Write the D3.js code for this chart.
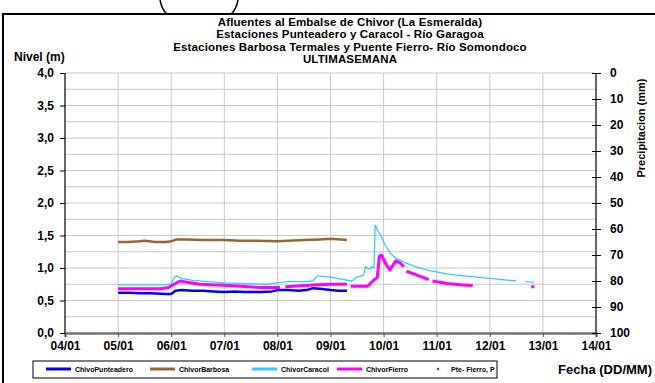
<!DOCTYPE html>
<html><head><meta charset="utf-8">
<script src="https://d3js.org/d3.v7.min.js"></script>
<style>body{margin:0;background:#fff;}svg{display:block;}text{font-family:"Liberation Sans",Arial,sans-serif;font-weight:bold;}</style>
</head><body>
<svg id="c" width="655" height="383"></svg>
<script>
const titleLines = ["Afluentes al Embalse de Chivor (La Esmeralda)","Estaciones Punteadero y Caracol - Río Garagoa","Estaciones Barbosa Termales y Puente Fierro- Río Somondoco","ULTIMASEMANA"];
const dayTicks = [4,5,6,7,8,9,10,11,12,13,14];
const dayLabels = ["04/01","05/01","06/01","07/01","08/01","09/01","10/01","11/01","12/01","13/01","14/01"];
const nivelTicks = [0,0.5,1,1.5,2,2.5,3,3.5,4];
const precTicks = [0,10,20,30,40,50,60,70,80,90,100];

const punteadero = [[5.0,0.62],[5.2,0.62],[5.4,0.61],[5.6,0.61],[5.9,0.60],[6.0,0.60],[6.08,0.65],[6.2,0.66],[6.4,0.65],[6.6,0.65],[6.8,0.64],[7.0,0.63],[7.2,0.64],[7.4,0.63],[7.7,0.63],[7.9,0.64],[8.0,0.66],[8.2,0.66],[8.4,0.65],[8.55,0.66],[8.67,0.69],[8.8,0.68],[9.0,0.66],[9.15,0.65],[9.31,0.65]];
const barbosa = [[5.0,1.40],[5.2,1.40],[5.4,1.41],[5.5,1.42],[5.7,1.40],[5.9,1.40],[6.0,1.41],[6.1,1.44],[6.3,1.44],[6.6,1.43],[7.0,1.43],[7.3,1.42],[7.6,1.42],[8.0,1.41],[8.2,1.42],[8.5,1.43],[8.8,1.44],[9.0,1.45],[9.2,1.44],[9.31,1.43]];
const caracol = [[5.0,0.74],[5.5,0.74],[5.9,0.74],[6.0,0.75],[6.05,0.85],[6.1,0.88],[6.2,0.84],[6.4,0.81],[6.7,0.79],[7.0,0.77],[7.4,0.76],[7.8,0.75],[8.0,0.77],[8.2,0.79],[8.5,0.79],[8.67,0.80],[8.75,0.88],[9.0,0.86],[9.2,0.83],[9.4,0.80],[9.5,0.86],[9.62,0.89],[9.66,1.02],[9.72,0.98],[9.78,1.02],[9.82,1.00],[9.84,1.66],[9.9,1.56],[9.95,1.50],[10.0,1.40],[10.12,1.23],[10.25,1.14],[10.44,1.07],[10.63,1.01],[10.87,0.96],[11.19,0.91],[11.5,0.88],[12.0,0.84],[12.5,0.80],[12.55,null],[12.68,0.79],[12.83,0.78]];
const fierro = [[5.0,0.68],[5.4,0.68],[5.8,0.68],[5.95,0.70],[6.05,0.75],[6.17,0.80],[6.3,0.78],[6.54,0.75],[7.1,0.73],[7.67,0.70],[8.05,0.70],[8.08,null],[8.15,0.71],[8.67,0.74],[9.0,0.75],[9.31,0.75],[9.33,null],[9.38,0.72],[9.7,0.72],[9.76,0.77],[9.82,0.82],[9.88,0.85],[9.92,1.18],[9.96,1.20],[10.05,1.05],[10.12,0.97],[10.18,1.05],[10.23,1.11],[10.31,1.08],[10.38,1.02],[10.4,null],[10.43,0.95],[10.63,0.89],[10.85,0.82],[10.88,null],[10.92,0.80],[11.2,0.76],[11.5,0.74],[11.68,0.73],[11.7,null],[12.78,0.71],[12.84,0.71]];
const pteFierroP = [];

const series = [
  {name:"ChivoPunteadero", data:punteadero, color:"#0000FF", w:2.5},
  {name:"ChivorBarbosa", data:barbosa, color:"#996633", w:2.5},
  {name:"ChivorCaracol", data:caracol, color:"#33CCFF", w:1.3},
  {name:"ChivorFierro", data:fierro, color:"#FF00FF", w:3}
];

const svg = d3.select("#c");
const x = d3.scaleLinear().domain([4,14]).range([65,596]);
const y = d3.scaleLinear().domain([0,4]).range([333,73]);
const yr = d3.scaleLinear().domain([0,100]).range([73,333]);

// frame
svg.append("path").attr("d","M3,383 L3,14 L655,14").attr("fill","none").attr("stroke","#000").attr("stroke-width",2);
svg.append("path").attr("d","M160,0 Q162,10 167,14").attr("fill","none").attr("stroke","#000").attr("stroke-width",1.5);
svg.append("path").attr("d","M238,0 Q236,10 231,14").attr("fill","none").attr("stroke","#000").attr("stroke-width",1.5);

// grid
const g = svg.append("g");
d3.range(1,17).forEach(i=>{
  const v=i*0.25;
  g.append("line").attr("x1",65).attr("x2",596).attr("y1",y(v)).attr("y2",y(v)).attr("stroke","#c8c8c8").attr("stroke-width",1);
});
dayTicks.slice(1,-1).forEach(d=>{
  g.append("line").attr("x1",x(d)).attr("x2",x(d)).attr("y1",73).attr("y2",333).attr("stroke","#c8c8c8").attr("stroke-width",1);
});

const tickFont = 12;
// axes
const ax = svg.append("g").attr("transform","translate(0,333)")
  .call(d3.axisBottom(x).tickValues(dayTicks).tickFormat((d,i)=>dayLabels[i]).tickSize(4).tickPadding(4));
ax.select(".domain").attr("stroke","#777").attr("stroke-width",2.5);
ax.selectAll(".tick line").attr("stroke","#555");
ax.selectAll("text").attr("font-size",tickFont).attr("fill","#000").attr("font-family","Liberation Sans, Arial").attr("font-weight","bold");

const ay = svg.append("g").attr("transform","translate(65,0)")
  .call(d3.axisLeft(y).tickValues(nivelTicks).tickFormat(d=>d3.format(".1f")(d).replace(".",",")).tickSize(5).tickPadding(6));
ay.select(".domain").attr("stroke","#000").attr("stroke-width",1.2).attr("d","M0,73V333");
ay.selectAll(".tick line").attr("stroke","#000");
ay.selectAll("text").attr("font-size",tickFont).attr("fill","#000").attr("font-family","Liberation Sans, Arial").attr("font-weight","bold");

const ar = svg.append("g").attr("transform","translate(596,0)")
  .call(d3.axisRight(yr).tickValues(precTicks).tickSize(5).tickPadding(9));
ar.select(".domain").attr("stroke","#000").attr("stroke-width",1.2).attr("d","M0,73V333");
ar.selectAll(".tick line").attr("stroke","#000").attr("x1",-4);
ar.selectAll("text").attr("font-size",tickFont).attr("fill","#000").attr("font-family","Liberation Sans, Arial").attr("font-weight","bold");

// lines
const line = d3.line().defined(d=>d[1]!==null).x(d=>x(d[0])).y(d=>y(d[1]));
series.forEach(s=>{
  svg.append("path").datum(s.data).attr("d",line).attr("fill","none").attr("stroke",s.color).attr("stroke-width",s.w).attr("stroke-linejoin","round");
});
svg.selectAll(".pp").data(pteFierroP).enter().append("circle").attr("cx",d=>x(d[0])).attr("cy",d=>yr(d[1])).attr("r",1.5).attr("fill","#009900");

// titles
titleLines.forEach((t,i)=>{
  svg.append("text").attr("x",350).attr("y",26+i*12.4).attr("text-anchor","middle").attr("font-size",11.5).attr("letter-spacing",0.15).text(t);
});
svg.append("text").attr("x",14).attr("y",61).attr("font-size",12).text("Nivel (m)");
svg.append("text").attr("transform","translate(645,128) rotate(-90)").attr("text-anchor","middle").attr("font-size",11).text("Precipitacion (mm)");
svg.append("text").attr("x",652).attr("y",374).attr("text-anchor","end").attr("font-size",13).text("Fecha (DD/MM)");

// legend
const lg = svg.append("g");
lg.append("rect").attr("x",33).attr("y",361).attr("width",464).attr("height",17).attr("fill","#fff").attr("stroke","#000").attr("stroke-width",1);
const legItems = [
  {name:"ChivoPunteadero", color:"#0000FF", x:46},
  {name:"ChivorBarbosa", color:"#996633", x:150},
  {name:"ChivorCaracol", color:"#33CCFF", x:252},
  {name:"ChivorFierro", color:"#FF00FF", x:337},
];
legItems.forEach(it=>{
  lg.append("line").attr("x1",it.x).attr("x2",it.x+25).attr("y1",369).attr("y2",369).attr("stroke",it.color).attr("stroke-width",3);
  lg.append("text").attr("x",it.x+29).attr("y",372).attr("font-size",7).text(it.name);
});
lg.append("circle").attr("cx",438).attr("cy",369).attr("r",1.3).attr("fill","#009900");
lg.append("text").attr("x",451).attr("y",372).attr("font-size",7).text("Pte- Fierro, P");
</script>
</body></html>
